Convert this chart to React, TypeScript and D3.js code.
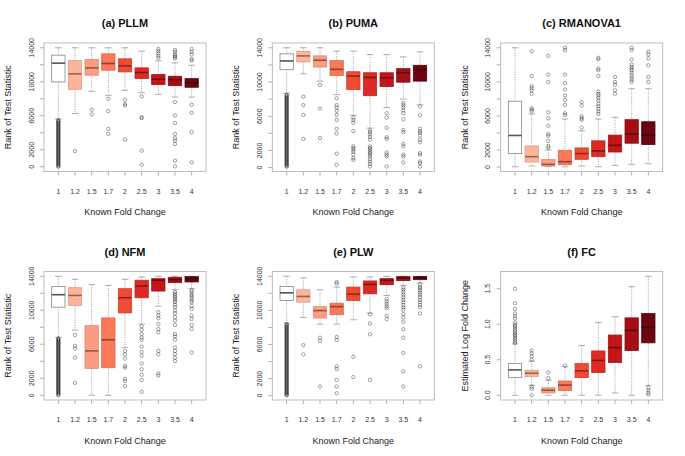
import React from 'react';
import * as d3 from 'd3';

const categories = ['1', '1.2', '1.5', '1.7', '2', '2.5', '3', '3.5', '4'];
const boxColors = ['#ffffff', '#fcb49a', '#fc9c80', '#fb7858', '#ef4a33', '#db2b24', '#c2161b', '#a30f15', '#6a0511'];

const rankTicks = [0, 2000, 4000, 6000, 8000, 10000, 12000, 14000];
const rankTickLabels = ['0', '2000', '', '6000', '', '10000', '', '14000'];
const fcTicks = [0, 0.5, 1, 1.5];
const fcTickLabels = ['0.0', '0.5', '1.0', '1.5'];

// each row: [lower whisker, Q1, median, Q3, upper whisker]
const pllmStats = [
  [5600, 9980, 12190, 13130, 14000],
  [6270, 9110, 10925, 12500, 14000],
  [8870, 10770, 11635, 12620, 14000],
  [8400, 11360, 12150, 13290, 14000],
  [9000, 11160, 11870, 12700, 14000],
  [8720, 10370, 11080, 11635, 13600],
  [8520, 9660, 10300, 10850, 12460],
  [8200, 9540, 10250, 10650, 12230],
  [8200, 9350, 9900, 10370, 11950],
];
const pllmOutliers = [
  [5500, 5400, 5300, 5200, 5100, 5000, 4900, 4800, 4700, 4600, 4500, 4400, 4300, 4200, 4100, 4000, 3900, 3800, 3700, 3600, 3500, 3400, 3300, 3200, 3100, 3000, 2900, 2800, 2700, 2600, 2500, 2400, 2300, 2200, 2100, 2000, 1900, 1800, 1700, 1600, 1500, 1400, 1300, 1200, 1100, 1000, 900, 800, 700, 600, 500, 400, 300, 200, 100, 0],
  [1850],
  [6700, 6150],
  [8000, 6550, 4460, 3870],
  [7890, 7400, 7220, 3200],
  [8280, 5840, 5720, 1890, 240],
  [13850, 13600, 13330, 13050, 12820],
  [13720, 13530, 13210, 13050, 12900, 12740, 7610, 6030, 5130, 3870, 3350, 3080, 2680, 710, 40],
  [13850, 13530, 13210, 12660, 12500, 7300, 6350, 4060, 510],
];

const pumaStats = [
  [8680, 11440, 12460, 13290, 14000],
  [10960, 12340, 13050, 13600, 14000],
  [10100, 11750, 12540, 13050, 14000],
  [8520, 10770, 11480, 12500, 13600],
  [6110, 9110, 10690, 11200, 13600],
  [4610, 8400, 10530, 11080, 13210],
  [7020, 9470, 10490, 11080, 13210],
  [8010, 9980, 11080, 11560, 12940],
  [7340, 10100, 11440, 11950, 13530],
];
const pumaOutliers = [
  [8500, 8400, 8300, 8200, 8100, 8000, 7900, 7800, 7700, 7600, 7500, 7400, 7300, 7200, 7100, 7000, 6900, 6800, 6700, 6600, 6500, 6400, 6300, 6200, 6100, 6000, 5900, 5800, 5700, 5600, 5500, 5400, 5300, 5200, 5100, 5000, 4900, 4800, 4700, 4600, 4500, 4400, 4300, 4200, 4100, 4000, 3900, 3800, 3700, 3600, 3500, 3400, 3300, 3200, 3100, 3000, 2900, 2800, 2700, 2600, 2500, 2400, 2300, 2200, 2100, 2000, 1900, 1800, 1700, 1600, 1500, 1400, 1300, 1200, 1100, 1000, 900, 800, 700, 600, 500, 400, 300, 200, 100],
  [8280, 7300, 6150, 3350],
  [9660, 6900, 3470],
  [8090, 7300, 7020, 6630, 6150, 5560, 4540, 3980, 1620, 320],
  [5840, 5560, 5250, 4260, 2480, 2290, 2090, 1850, 1540, 1100, 910],
  [4340, 4140, 3870, 3590, 3270, 2480, 2290, 2090, 1890, 1700, 1500, 1300, 990, 710, 430, 120],
  [6350, 5840, 4650, 3550, 3350, 1770, 1500, 1300, 120],
  [7530, 7300, 7020, 6700, 6350, 5640, 4380, 4140, 2760, 2480, 1500, 1300, 590],
  [7140, 6110, 4540, 4260, 4060, 3750, 3270, 2960, 1700, 1500, 710, 510, 120],
];

const rmanovaStats = [
  [40, 1580, 3710, 7730, 14000],
  [120, 590, 1220, 2480, 6230],
  [40, 120, 320, 910, 2010],
  [40, 280, 630, 1970, 5640],
  [120, 910, 1580, 2250, 4260],
  [40, 1220, 1890, 3080, 5640],
  [200, 1770, 2560, 3750, 5840],
  [320, 2800, 3870, 5560, 9190],
  [390, 2640, 3750, 5320, 9190],
];
const rmanovaOutliers = [
  [],
  [13600, 10690, 9500, 9270, 9000, 8600, 6900, 6740, 6550],
  [13050, 10850, 9980, 6430, 5720, 4850, 3870, 3670, 3080, 2480, 2290],
  [14000, 13720, 10850, 9860, 9110, 8400, 7890, 7300, 6310, 6110],
  [7610, 7220, 5960, 5720, 5560, 4650],
  [12820, 12660, 11560, 11360, 10690, 8870, 8600, 8400, 8090, 7810, 7410, 7140, 6820, 6510, 6230],
  [10570, 9980, 9660, 9000, 8600],
  [14000, 13720, 12620, 12030, 11750, 11560, 11360, 11080, 10770, 10490, 10250, 9980],
  [13530, 13210, 12740, 11950, 10570, 9980],
];

const nfmStats = [
  [6800, 10360, 11830, 12810, 14000],
  [7670, 10560, 11750, 12660, 13640],
  [0, 3160, 5220, 8190, 13010],
  [0, 3240, 6530, 9100, 12930],
  [5620, 9690, 11470, 12540, 13640],
  [8380, 11470, 12850, 13530, 13920],
  [10480, 12260, 13530, 13720, 14000],
  [12420, 13250, 13600, 13880, 14000],
  [12540, 13330, 13720, 13960, 14000],
];
const nfmOutliers = [
  [6700, 6600, 6500, 6400, 6300, 6200, 6100, 6000, 5900, 5800, 5700, 5600, 5500, 5400, 5300, 5200, 5100, 5000, 4900, 4800, 4700, 4600, 4500, 4400, 4300, 4200, 4100, 4000, 3900, 3800, 3700, 3600, 3500, 3400, 3300, 3200, 3100, 3000, 2900, 2800, 2700, 2600, 2500, 2400, 2300, 2200, 2100, 2000, 1900, 1800, 1700, 1600, 1500, 1400, 1300, 1200, 1100, 1000, 900, 800, 700, 600, 500, 400, 300, 200, 100, 0],
  [7080, 5810, 5500, 4430, 1460],
  [],
  [],
  [5220, 4830, 4310, 3440, 3240, 1940, 1660, 1070],
  [8110, 7710, 7200, 6800, 6530, 5730, 5100, 4630, 3720, 3050, 2410, 1780, 400],
  [9770, 9370, 9060, 8380, 7790, 7400, 5220, 4830, 2570, 2330],
  [12140, 11940, 11750, 11550, 11350, 11150, 10960, 10640, 10360, 9970, 9650, 9180, 8780, 8270, 7200, 6920, 6530, 5620, 5220, 4830, 4430, 4030],
  [12340, 12140, 11870, 11670, 11430, 11150, 10960, 10480, 10160, 9370, 8980, 8270, 7790, 5020],
];

const plwStats = [
  [8500, 11150, 12060, 12810, 14000],
  [9180, 10960, 11630, 12420, 13800],
  [8380, 9100, 9970, 10440, 12420],
  [8380, 9490, 10440, 10840, 12730],
  [8900, 11150, 11900, 12730, 13920],
  [9690, 11940, 13050, 13450, 13920],
  [11750, 13010, 13530, 13720, 14000],
  [12930, 13490, 13800, 13960, 14000],
  [13210, 13600, 13840, 13960, 14000],
];
const plwOutliers = [
  [8400, 8300, 8200, 8100, 8000, 7900, 7800, 7700, 7600, 7500, 7400, 7300, 7200, 7100, 7000, 6900, 6800, 6700, 6600, 6500, 6400, 6300, 6200, 6100, 6000, 5900, 5800, 5700, 5600, 5500, 5400, 5300, 5200, 5100, 5000, 4900, 4800, 4700, 4600, 4500, 4400, 4300, 4200, 4100, 4000, 3900, 3800, 3700, 3600, 3500, 3400, 3300, 3200, 3100, 3000, 2900, 2800, 2700, 2600, 2500, 2400, 2300, 2200, 2100, 2000, 1900, 1800, 1700, 1600, 1500, 1400, 1300, 1200, 1100, 1000, 900, 800, 700, 600, 500, 400, 300, 200, 100, 50],
  [5930, 4830],
  [6800, 6410, 1070],
  [13330, 13130, 6880, 6530, 3440, 3120, 1860, 1070, 280],
  [4550, 2180],
  [9530, 8460, 7200, 1860],
  [11350, 11030, 10760, 10480, 10240, 9370, 8980],
  [12660, 12420, 12140, 11830, 11550, 11230, 10960, 10640, 10360, 10080, 9570, 9180, 8660, 7790, 6800, 5020, 2850, 1070],
  [13010, 12730, 12540, 12340, 12060, 11830, 11550, 11230, 10960, 10640, 10360, 9650, 3440],
];

const fcStats = [
  [0, 0.248, 0.357, 0.448, 0.724],
  [0.14, 0.262, 0.31, 0.352, 0.48],
  [0, 0.033, 0.071, 0.105, 0.21],
  [0, 0.067, 0.143, 0.2, 0.4],
  [0, 0.248, 0.343, 0.448, 0.7],
  [0, 0.319, 0.49, 0.624, 1.024],
  [0.033, 0.462, 0.671, 0.848, 1.105],
  [0, 0.629, 0.914, 1.09, 1.529],
  [0.138, 0.738, 0.957, 1.152, 1.676],
];
const fcOutliers = [
  [1.5, 1.295, 1.214, 1.152, 1.114, 1.081, 1.024, 0.995, 0.976, 0.952, 0.924, 0.9, 0.876, 0.852, 0.833, 0.81, 0.786, 0.762, 0.738],
  [0.63, 0.59, 0.55, 0.5, 0.12, 0.09, 0],
  [0.32, 0.24],
  [0.42],
  [],
  [],
  [],
  [],
  [0.105, 0.071, 0.033, 0.01],
];

const FONT = 'Liberation Sans, Arial, Helvetica, sans-serif';
const PANEL_W = 685 / 3;
const ROW_H = 228.5;

type PanelProps = {
  title: string;
  yLabel: string;
  stats: number[][];
  outliers: number[][];
  ticks: number[];
  tickLabels: string[];
  col: number;
  row: number;
};

const Panel = ({ title, yLabel, stats, outliers, ticks, tickLabels, col, row }: PanelProps) => {
  const x0 = col * PANEL_W;
  const y0 = row * ROW_H;
  const left = x0 + 44;
  const right = x0 + 206;
  const top = y0 + 43;
  const bottom = y0 + 171.5;

  const allVals = stats.flat().concat(outliers.flat());
  const [lo, hi] = d3.extent(allVals) as [number, number];
  const pad = (hi - lo) * 0.04;

  const x = d3.scaleLinear().domain([0.14, 9.86]).range([left, right]);
  const y = d3.scaleLinear().domain([lo - pad, hi + pad]).range([bottom, top]);
  const hw = x(0.4) - x(0);
  const cw = x(0.2) - x(0);
  const midX = (left + right) / 2;

  return (
    <g>
      <text x={midX} y={y0 + 27} textAnchor="middle" fontFamily={FONT} fontWeight="bold" fontSize={11} fill="#111">
        {title}
      </text>
      <text
        transform={`translate(${x0 + 8},${(top + bottom) / 2}) rotate(-90)`}
        textAnchor="middle"
        dominantBaseline="central"
        fontFamily={FONT}
        fontSize={9}
        fill="#222"
      >
        {yLabel}
      </text>
      <text x={midX} y={y0 + 215} textAnchor="middle" fontFamily={FONT} fontSize={9} fill="#222">
        Known Fold Change
      </text>

      {ticks.map((t, i) => (
        <g key={'yt' + i}>
          <line x1={left - 4} x2={left} y1={y(t)} y2={y(t)} stroke="#999" strokeWidth={0.8} />
          {tickLabels[i] && (
            <text
              transform={`translate(${left - 13},${y(t)}) rotate(-90)`}
              textAnchor="middle"
              dominantBaseline="central"
              fontFamily={FONT}
              fontSize={7}
              fill="#333"
            >
              {tickLabels[i]}
            </text>
          )}
        </g>
      ))}

      {categories.map((c, i) => (
        <g key={'xt' + i}>
          <line x1={x(i + 1)} x2={x(i + 1)} y1={bottom} y2={bottom + 4} stroke="#999" strokeWidth={0.8} />
          <text x={x(i + 1)} y={bottom + 22} textAnchor="middle" fontFamily={FONT} fontSize={7} fill="#333">
            {c}
          </text>
        </g>
      ))}

      {stats.map((s, i) => {
        const cx = x(i + 1);
        const [wLo, q1, med, q3, wHi] = s;
        const fill = boxColors[i];
        const border = i === 0 ? '#888' : d3.color(fill)!.darker(0.35).formatHex();
        const medColor = i === 0 ? '#555' : d3.color(fill)!.darker(1.6).formatHex();
        return (
          <g key={'b' + i}>
            <line x1={cx} x2={cx} y1={y(wHi)} y2={y(q3)} stroke="#999" strokeWidth={0.8} strokeDasharray="1.2,1.2" />
            <line x1={cx} x2={cx} y1={y(q1)} y2={y(wLo)} stroke="#999" strokeWidth={0.8} strokeDasharray="1.2,1.2" />
            <line x1={cx - cw} x2={cx + cw} y1={y(wHi)} y2={y(wHi)} stroke="#999" strokeWidth={0.8} />
            <line x1={cx - cw} x2={cx + cw} y1={y(wLo)} y2={y(wLo)} stroke="#999" strokeWidth={0.8} />
            <rect
              x={cx - hw}
              y={y(q3)}
              width={2 * hw}
              height={Math.max(0.8, y(q1) - y(q3))}
              fill={fill}
              stroke={border}
              strokeWidth={0.8}
            />
            <line x1={cx - hw} x2={cx + hw} y1={y(med)} y2={y(med)} stroke={medColor} strokeWidth={1.6} />
            {outliers[i].map((v, j) => (
              <circle key={j} cx={cx} cy={y(v)} r={1.7} fill="none" stroke="#000" strokeOpacity={0.45} strokeWidth={0.8} />
            ))}
          </g>
        );
      })}

      <rect x={left} y={top} width={right - left} height={bottom - top} fill="none" stroke="#b5b5b5" strokeWidth={0.9} />
    </g>
  );
};

const App = () => {
  return (
    <svg width={685} height={456} style={{ position: 'absolute', left: 0, top: 0, background: '#fff' }}>
      <rect width={685} height={456} fill="#fff" />
      <Panel title="(a) PLLM" yLabel="Rank of Test Statistic" stats={pllmStats} outliers={pllmOutliers} ticks={rankTicks} tickLabels={rankTickLabels} col={0} row={0} />
      <Panel title="(b) PUMA" yLabel="Rank of Test Statistic" stats={pumaStats} outliers={pumaOutliers} ticks={rankTicks} tickLabels={rankTickLabels} col={1} row={0} />
      <Panel title="(c) RMANOVA1" yLabel="Rank of Test Statistic" stats={rmanovaStats} outliers={rmanovaOutliers} ticks={rankTicks} tickLabels={rankTickLabels} col={2} row={0} />
      <Panel title="(d) NFM" yLabel="Rank of Test Statistic" stats={nfmStats} outliers={nfmOutliers} ticks={rankTicks} tickLabels={rankTickLabels} col={0} row={1} />
      <Panel title="(e) PLW" yLabel="Rank of Test Statistic" stats={plwStats} outliers={plwOutliers} ticks={rankTicks} tickLabels={rankTickLabels} col={1} row={1} />
      <Panel title="(f) FC" yLabel="Estimated Log Fold Change" stats={fcStats} outliers={fcOutliers} ticks={fcTicks} tickLabels={fcTickLabels} col={2} row={1} />
    </svg>
  );
};

export default App;
